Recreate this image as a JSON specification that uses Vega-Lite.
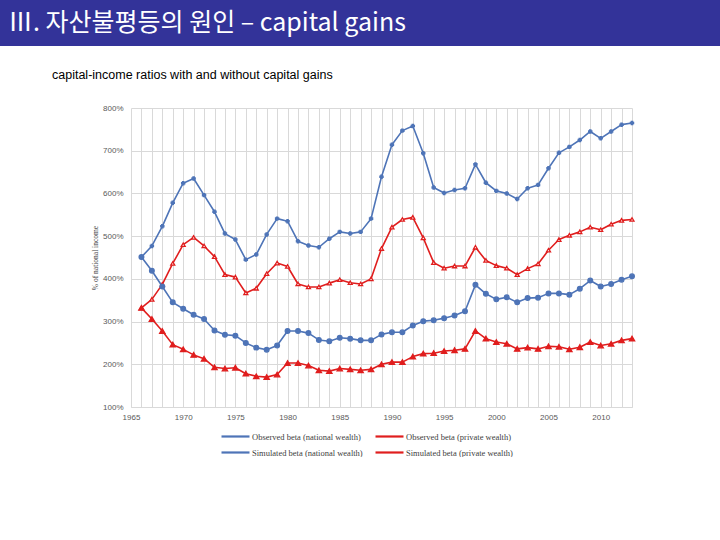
{
  "$schema": "https://vega.github.io/schema/vega-lite/v6.json",
  "padding": 0,
  "background": "white",
  "bounds": "flush",
  "spacing": 62,
  "config": {"view": {"stroke": null}, "font": "Liberation Sans"},
  "vconcat": [
    {
      "width": 720,
      "height": 46,
      "view": {"fill": "#333399", "stroke": null},
      "data": {"values": [{"heading": "Ⅲ. 자산불평등의 원인 – capital gains"}]},
      "mark": {"type": "text", "align": "left", "baseline": "middle", "dx": -352, "dy": 0, "font": "Noto Sans CJK KR", "fontSize": 25, "color": "white"},
      "encoding": {"text": {"field": "heading", "type": "nominal"}}
    },
    {
      "bounds": "flush",
      "spacing": 0,
      "hconcat": [
        {
          "width": 131,
          "height": 299,
          "data": {"values": []},
          "mark": "text"
        },
        {
          "width": 501,
          "height": 299,
          "title": {
            "text": "capital-income ratios with and without capital gains",
            "anchor": "start",
            "frame": "group",
            "dx": -79,
            "offset": 23,
            "font": "Liberation Sans",
            "fontSize": 12.5,
            "fontWeight": "normal",
            "color": "black"
          },
          "data": {
            "values": [
              {"year": 1966, "obs_nat": 451, "obs_priv": 332, "sim_nat": 451, "sim_priv": 332},
              {"year": 1967, "obs_nat": 477, "obs_priv": 352, "sim_nat": 419, "sim_priv": 306},
              {"year": 1968, "obs_nat": 523, "obs_priv": 387, "sim_nat": 382, "sim_priv": 278},
              {"year": 1969, "obs_nat": 578, "obs_priv": 436, "sim_nat": 345, "sim_priv": 246},
              {"year": 1970, "obs_nat": 624, "obs_priv": 480, "sim_nat": 330, "sim_priv": 235},
              {"year": 1971, "obs_nat": 635, "obs_priv": 497, "sim_nat": 316, "sim_priv": 222},
              {"year": 1972, "obs_nat": 596, "obs_priv": 477, "sim_nat": 306, "sim_priv": 213},
              {"year": 1973, "obs_nat": 557, "obs_priv": 452, "sim_nat": 279, "sim_priv": 193},
              {"year": 1974, "obs_nat": 506, "obs_priv": 410, "sim_nat": 269, "sim_priv": 190},
              {"year": 1975, "obs_nat": 492, "obs_priv": 404, "sim_nat": 267, "sim_priv": 192},
              {"year": 1976, "obs_nat": 445, "obs_priv": 367, "sim_nat": 250, "sim_priv": 178},
              {"year": 1977, "obs_nat": 457, "obs_priv": 378, "sim_nat": 239, "sim_priv": 172},
              {"year": 1978, "obs_nat": 504, "obs_priv": 412, "sim_nat": 234, "sim_priv": 170},
              {"year": 1979, "obs_nat": 541, "obs_priv": 437, "sim_nat": 244, "sim_priv": 176},
              {"year": 1980, "obs_nat": 535, "obs_priv": 429, "sim_nat": 278, "sim_priv": 203},
              {"year": 1981, "obs_nat": 488, "obs_priv": 388, "sim_nat": 278, "sim_priv": 203},
              {"year": 1982, "obs_nat": 478, "obs_priv": 381, "sim_nat": 273, "sim_priv": 197},
              {"year": 1983, "obs_nat": 474, "obs_priv": 381, "sim_nat": 257, "sim_priv": 186},
              {"year": 1984, "obs_nat": 494, "obs_priv": 390, "sim_nat": 254, "sim_priv": 184},
              {"year": 1985, "obs_nat": 510, "obs_priv": 398, "sim_nat": 262, "sim_priv": 190},
              {"year": 1986, "obs_nat": 506, "obs_priv": 391, "sim_nat": 260, "sim_priv": 188},
              {"year": 1987, "obs_nat": 510, "obs_priv": 388, "sim_nat": 256, "sim_priv": 186},
              {"year": 1988, "obs_nat": 541, "obs_priv": 400, "sim_nat": 256, "sim_priv": 188},
              {"year": 1989, "obs_nat": 639, "obs_priv": 471, "sim_nat": 270, "sim_priv": 200},
              {"year": 1990, "obs_nat": 714, "obs_priv": 521, "sim_nat": 275, "sim_priv": 205},
              {"year": 1991, "obs_nat": 747, "obs_priv": 539, "sim_nat": 275, "sim_priv": 205},
              {"year": 1992, "obs_nat": 758, "obs_priv": 544, "sim_nat": 291, "sim_priv": 218},
              {"year": 1993, "obs_nat": 694, "obs_priv": 496, "sim_nat": 301, "sim_priv": 225},
              {"year": 1994, "obs_nat": 614, "obs_priv": 438, "sim_nat": 303, "sim_priv": 226},
              {"year": 1995, "obs_nat": 601, "obs_priv": 425, "sim_nat": 308, "sim_priv": 231},
              {"year": 1996, "obs_nat": 608, "obs_priv": 430, "sim_nat": 314, "sim_priv": 233},
              {"year": 1997, "obs_nat": 612, "obs_priv": 430, "sim_nat": 324, "sim_priv": 236},
              {"year": 1998, "obs_nat": 668, "obs_priv": 474, "sim_nat": 386, "sim_priv": 278},
              {"year": 1999, "obs_nat": 625, "obs_priv": 443, "sim_nat": 365, "sim_priv": 260},
              {"year": 2000, "obs_nat": 606, "obs_priv": 431, "sim_nat": 352, "sim_priv": 252},
              {"year": 2001, "obs_nat": 600, "obs_priv": 425, "sim_nat": 357, "sim_priv": 248},
              {"year": 2002, "obs_nat": 587, "obs_priv": 410, "sim_nat": 345, "sim_priv": 236},
              {"year": 2003, "obs_nat": 612, "obs_priv": 424, "sim_nat": 355, "sim_priv": 239},
              {"year": 2004, "obs_nat": 620, "obs_priv": 435, "sim_nat": 356, "sim_priv": 236},
              {"year": 2005, "obs_nat": 659, "obs_priv": 467, "sim_nat": 366, "sim_priv": 242},
              {"year": 2006, "obs_nat": 695, "obs_priv": 492, "sim_nat": 366, "sim_priv": 241},
              {"year": 2007, "obs_nat": 709, "obs_priv": 502, "sim_nat": 363, "sim_priv": 235},
              {"year": 2008, "obs_nat": 725, "obs_priv": 510, "sim_nat": 377, "sim_priv": 240},
              {"year": 2009, "obs_nat": 745, "obs_priv": 521, "sim_nat": 396, "sim_priv": 252},
              {"year": 2010, "obs_nat": 729, "obs_priv": 515, "sim_nat": 382, "sim_priv": 244},
              {"year": 2011, "obs_nat": 745, "obs_priv": 528, "sim_nat": 388, "sim_priv": 248},
              {"year": 2012, "obs_nat": 761, "obs_priv": 537, "sim_nat": 398, "sim_priv": 256},
              {"year": 2013, "obs_nat": 765, "obs_priv": 539, "sim_nat": 406, "sim_priv": 260}
            ]
          },
          "transform": [
            {"fold": ["obs_nat", "obs_priv", "sim_nat", "sim_priv"], "as": ["series", "value"]}
          ],
          "encoding": {
            "x": {
              "field": "year",
              "type": "quantitative",
              "scale": {"domain": [1965, 2013], "nice": false, "zero": false},
              "axis": {
                "title": null,
                "values": [1965, 1966, 1967, 1968, 1969, 1970, 1971, 1972, 1973, 1974, 1975, 1976, 1977, 1978, 1979, 1980, 1981, 1982, 1983, 1984, 1985, 1986, 1987, 1988, 1989, 1990, 1991, 1992, 1993, 1994, 1995, 1996, 1997, 1998, 1999, 2000, 2001, 2002, 2003, 2004, 2005, 2006, 2007, 2008, 2009, 2010, 2011, 2012, 2013],
                "format": "d",
                "labelExpr": "datum.value % 5 === 0 ? datum.label : ''",
                "labelOverlap": false,
                "labelFlush": false,
                "grid": true,
                "gridColor": "#d9d9d9",
                "ticks": false,
                "domainColor": "#d9d9d9",
                "labelFontSize": 8,
                "labelColor": "#595959",
                "labelPadding": 6
              }
            },
            "y": {
              "field": "value",
              "type": "quantitative",
              "scale": {"domain": [100, 800], "nice": false, "zero": false},
              "axis": {
                "values": [100, 200, 300, 400, 500, 600, 700, 800],
                "labelExpr": "datum.value + '%'",
                "grid": true,
                "gridColor": "#d9d9d9",
                "ticks": false,
                "domain": false,
                "labelFontSize": 8,
                "labelColor": "#595959",
                "labelPadding": 8,
                "title": "% of national income",
                "titleFont": "Liberation Serif",
                "titleFontSize": 7.5,
                "titleFontWeight": "normal",
                "titleColor": "#404040",
                "titlePadding": 3
              }
            },
            "color": {
              "field": "series",
              "type": "nominal",
              "scale": {
                "domain": ["obs_nat", "sim_nat", "obs_priv", "sim_priv"],
                "range": ["#4e74b7", "#4e74b7", "#e01e1e", "#e01e1e"]
              },
              "legend": {
                "orient": "none",
                "legendX": 220,
                "legendY": 430,
                "title": null,
                "columns": 2,
                "columnPadding": 8,
                "rowPadding": 5,
                "symbolSize": 100,
                "symbolOffset": 9,
                "symbolType": "M-2.8,0H2.8",
                "symbolStrokeWidth": 2.2,
                "symbolFillColor": "transparent",
                "symbolOpacity": 1,
                "labelOffset": 10,
                "labelFont": "Liberation Serif",
                "labelFontSize": 8.5,
                "labelColor": "#404040",
                "labelExpr": "datum.value == 'obs_nat' ? 'Observed beta (national wealth)' : datum.value == 'obs_priv' ? 'Observed beta (private wealth)' : datum.value == 'sim_nat' ? 'Simulated beta (national wealth)' : 'Simulated beta (private wealth)'"
              }
            }
          },
          "layer": [
            {
              "mark": {"type": "line", "strokeJoin": "round"},
              "encoding": {
                "strokeWidth": {
                  "field": "series",
                  "type": "nominal",
                  "scale": {"domain": ["obs_nat", "obs_priv", "sim_nat", "sim_priv"], "range": [1.6, 1.6, 3, 3]},
                  "legend": null
                }
              }
            },
            {
              "mark": {"type": "point", "filled": false, "opacity": 1, "strokeWidth": 1.3},
              "encoding": {
                "shape": {
                  "field": "series",
                  "type": "nominal",
                  "scale": {"domain": ["obs_nat", "obs_priv", "sim_nat", "sim_priv"], "range": ["cross", "triangle-up", "circle", "triangle-up"]},
                  "legend": null
                },
                "size": {
                  "field": "series",
                  "type": "nominal",
                  "scale": {"domain": ["obs_nat", "obs_priv", "sim_nat", "sim_priv"], "range": [10, 28, 40, 40]},
                  "legend": null
                },
                "fill": {
                  "field": "series",
                  "type": "nominal",
                  "scale": {"domain": ["obs_nat", "obs_priv", "sim_nat", "sim_priv"], "range": ["transparent", "#ffffff", "#4e74b7", "#e01e1e"]},
                  "legend": null
                }
              }
            }
          ]
        }
      ]
    }
  ]
}
